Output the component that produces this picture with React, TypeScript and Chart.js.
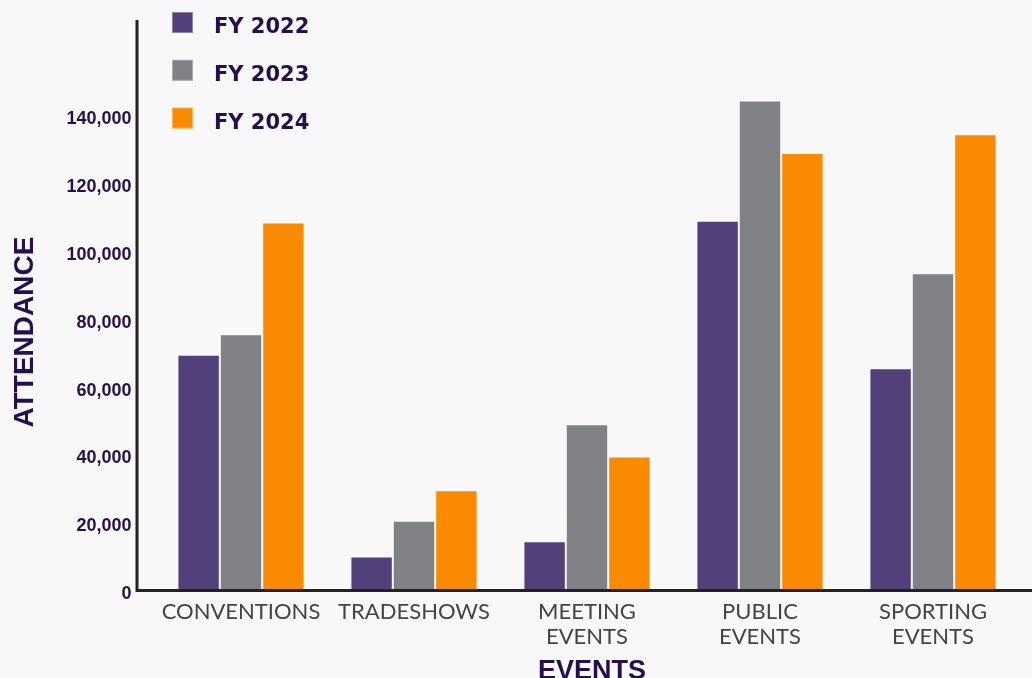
import React, { useEffect, useRef } from "react";
import { Chart, registerables } from "chart.js";

Chart.register(...registerables);

const categories: string[][] = [
  ["CONVENTIONS"],
  ["TRADESHOWS"],
  ["MEETING", "EVENTS"],
  ["PUBLIC", "EVENTS"],
  ["SPORTING", "EVENTS"],
];
const seriesLabels = ["FY 2022", "FY 2023", "FY 2024"];
const fy2022 = [70000, 10500, 15000, 109500, 66000];
const fy2023 = [76000, 21000, 49500, 145000, 94000];
const fy2024 = [109000, 30000, 40000, 129500, 135000];
const seriesColors = ["#51407A", "#808185", "#FA8A00"];
const yTickValues = [0, 20000, 40000, 60000, 80000, 100000, 120000, 140000];
const yMax = 170000;
const yTitle = "ATTENDANCE";
const xTitle = "EVENTS";

const TEXT_PURPLE = "#24104F";

const decorPlugin = {
  id: "decor",
  beforeDraw(chart: any) {
    const ctx = chart.ctx;
    ctx.save();
    ctx.fillStyle = "#f8f8f9";
    ctx.fillRect(0, 0, chart.width, chart.height);
    ctx.restore();
  },
  afterDraw(chart: any) {
    const ctx = chart.ctx;
    const area = chart.chartArea;
    ctx.save();
    // axis lines
    ctx.strokeStyle = "#222222";
    ctx.lineWidth = 3;
    ctx.beginPath();
    ctx.moveTo(137, 20);
    ctx.lineTo(137, area.bottom - 1.5);
    ctx.lineTo(chart.width, area.bottom - 1.5);
    ctx.stroke();

    // legend
    const ds = chart.data.datasets;
    ds.forEach((d: any, i: number) => {
      const y = 12 + i * 47.8;
      ctx.fillStyle = d.backgroundColor;
      ctx.fillRect(172, y, 21, 21);
      ctx.strokeStyle = "rgba(255,255,255,0.35)";
      ctx.lineWidth = 1;
      ctx.strokeRect(172.5, y + 0.5, 20, 20);
      ctx.fillStyle = TEXT_PURPLE;
      ctx.font = "bold 21px 'DejaVu Sans', sans-serif";
      ctx.textAlign = "left";
      ctx.textBaseline = "alphabetic";
      ctx.fillText(d.label, 214, y + 21);
    });

    // axis titles
    ctx.fillStyle = TEXT_PURPLE;
    ctx.font = "bold 28px 'Liberation Sans', Arial, sans-serif";
    ctx.textAlign = "center";
    ctx.textBaseline = "middle";
    ctx.save();
    ctx.translate(24, 332);
    ctx.rotate(-Math.PI / 2);
    ctx.fillText(yTitle, 0, 1);
    ctx.restore();
    ctx.font = "bold 27px 'Liberation Sans', Arial, sans-serif";
    ctx.textBaseline = "alphabetic";
    ctx.fillText(xTitle, (area.left + area.right) / 2 + 5, 679);
    ctx.restore();
  },
};

export default function App() {
  const ref = useRef<HTMLCanvasElement | null>(null);
  useEffect(() => {
    if (!ref.current) return;
    const data = [fy2022, fy2023, fy2024];
    const chart = new Chart(ref.current, {
      type: "bar",
      data: {
        labels: categories,
        datasets: seriesLabels.map((label, i) => ({
          label,
          data: data[i],
          backgroundColor: seriesColors[i],
          borderColor: "rgba(255,255,255,0.3)",
          borderWidth: 1,
          borderSkipped: "bottom",
          categoryPercentage: 0.735,
          barPercentage: 1.0,
        })),
      },
      options: {
        responsive: false,
        animation: false,
        layout: { padding: { top: 15.7, right: 12.5, left: 0, bottom: 0 } },
        plugins: {
          legend: { display: false },
          tooltip: { enabled: false },
        },
        scales: {
          x: {
            grid: { display: false, drawTicks: false },
            border: { display: false },
            ticks: {
              color: "#444444",
              padding: 7,
              maxRotation: 0,
              autoSkip: false,
              font: { family: "Lato, 'Open Sans', sans-serif", size: 22, lineHeight: 1.15 },
            },
            afterFit(scale: any) {
              scale.height = 86;
              scale.paddingLeft = 0;
              scale.paddingRight = 0;
            },
          },
          y: {
            min: 0,
            max: yMax,
            grid: { display: false, drawTicks: false },
            border: { display: false },
            afterBuildTicks(scale: any) {
              scale.ticks = yTickValues.map((v) => ({ value: v }));
            },
            ticks: {
              autoSkip: false,
              padding: 23,
              labelOffset: 2,
              color: TEXT_PURPLE,
              font: { family: "'Liberation Sans', Arial, sans-serif", size: 18, weight: "bold" },
              callback(value: any) {
                return Number(value).toLocaleString("en-US");
              },
            },
            afterFit(scale: any) {
              scale.width = 154.5;
              scale.paddingTop = 0;
              scale.paddingBottom = 0;
            },
          },
        },
      },
      plugins: [decorPlugin],
    } as any);
    return () => chart.destroy();
  }, []);
  return (
    <div style={{ position: "fixed", left: 0, top: 0, width: 1032, height: 678, background: "#f8f8f9" }}>
      <canvas ref={ref} width={1032} height={678} style={{ display: "block" }} />
    </div>
  );
}
